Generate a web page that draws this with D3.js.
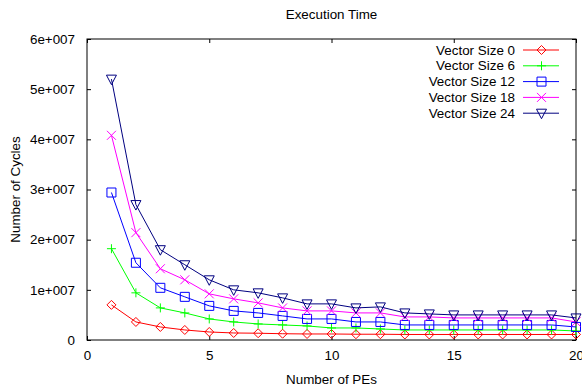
<!DOCTYPE html>
<html>
<head>
  <meta charset="utf-8">
  <title>Execution Time</title>
  <script src="https://d3js.org/d3.v7.min.js"></script>
  <style>
    body { margin: 0; background: #fff; }
    text { font-family: "Liberation Sans", Arial, sans-serif; font-size: 13.4px; fill: #000; }
  </style>
</head>
<body>
  <svg id="chart" width="582" height="389"></svg>

  <script>
    // number of PEs
    const pes = [1, 2, 3, 4, 5, 6, 7, 8, 9, 10, 11, 12, 13, 14, 15, 16, 17, 18, 19, 20];

    const size0  = [7.0e6, 3.6e6, 2.6e6, 2.0e6, 1.6e6, 1.4e6, 1.35e6, 1.25e6, 1.2e6, 1.2e6, 1.15e6, 1.15e6, 1.1e6, 1.1e6, 1.1e6, 1.1e6, 1.1e6, 1.1e6, 1.1e6, 1.1e6];
    const size6  = [1.82e7, 9.4e6, 6.4e6, 5.4e6, 4.2e6, 3.6e6, 3.2e6, 3.0e6, 2.8e6, 2.4e6, 2.4e6, 2.2e6, 2.0e6, 2.0e6, 2.0e6, 2.0e6, 2.0e6, 2.0e6, 2.0e6, 1.8e6];
    const size12 = [2.94e7, 1.54e7, 1.04e7, 8.6e6, 6.8e6, 5.8e6, 5.4e6, 4.8e6, 4.2e6, 4.2e6, 3.6e6, 3.6e6, 3.0e6, 3.0e6, 3.0e6, 3.0e6, 3.0e6, 3.0e6, 3.0e6, 2.6e6];
    const size18 = [4.08e7, 2.14e7, 1.42e7, 1.2e7, 9.2e6, 8.2e6, 7.4e6, 6.4e6, 5.8e6, 5.8e6, 5.4e6, 5.4e6, 4.6e6, 4.6e6, 4.4e6, 4.4e6, 4.4e6, 4.4e6, 4.4e6, 3.6e6];
    const size24 = [5.2e7, 2.7e7, 1.8e7, 1.5e7, 1.2e7, 1.0e7, 9.4e6, 8.4e6, 7.2e6, 7.2e6, 6.4e6, 6.6e6, 5.4e6, 5.2e6, 5.0e6, 5.0e6, 5.0e6, 5.0e6, 5.0e6, 4.4e6];

    const seriesNames = ["Vector Size 0", "Vector Size 6", "Vector Size 12", "Vector Size 18", "Vector Size 24"];
    const seriesValues = [size0, size6, size12, size18, size24];
    const seriesColors = ["#ff0000", "#00ff00", "#0000ff", "#ff00ff", "#000080"];
    const seriesSymbols = ["diamond", "plus", "square", "cross", "triangle"];

    const xTicks = [0, 5, 10, 15, 20];
    const yTicks = [0, 1e7, 2e7, 3e7, 4e7, 5e7, 6e7];
    const yTickLabels = ["0", "1e+007", "2e+007", "3e+007", "4e+007", "5e+007", "6e+007"];

    const margin = { top: 39, right: 6, bottom: 49, left: 87 };
    const width = 582, height = 389;
    const iw = width - margin.left - margin.right;
    const ih = height - margin.top - margin.bottom;

    const svg = d3.select("#chart");
    const g = svg.append("g").attr("transform", `translate(${margin.left},${margin.top})`);

    const x = d3.scaleLinear().domain([0, 20]).range([0, iw]);
    const y = d3.scaleLinear().domain([0, 6e7]).range([ih, 0]);

    // frame
    g.append("rect")
      .attr("x", 0).attr("y", 0)
      .attr("width", iw).attr("height", ih)
      .attr("fill", "none").attr("stroke", "#000").attr("stroke-width", 1);

    // axes with inward ticks, mirrored on top/right
    const tl = 4;
    g.append("g").attr("transform", `translate(0,${ih})`)
      .call(d3.axisBottom(x).tickValues(xTicks).tickSize(-tl).tickPadding(10.5))
      .call(a => a.select(".domain").remove());
    g.append("g")
      .call(d3.axisTop(x).tickValues(xTicks).tickSize(-tl).tickFormat(""))
      .call(a => a.select(".domain").remove());
    g.append("g")
      .call(d3.axisLeft(y).tickValues(yTicks).tickSize(-tl).tickPadding(12)
        .tickFormat((d, i) => yTickLabels[i]))
      .call(a => a.select(".domain").remove());
    g.append("g").attr("transform", `translate(${iw},0)`)
      .call(d3.axisRight(y).tickValues(yTicks).tickSize(-tl).tickFormat(""))
      .call(a => a.select(".domain").remove());

    g.selectAll(".tick text")
      .style("font-family", "'Liberation Sans', Arial, sans-serif")
      .style("font-size", "13.4px")
      .attr("fill", "#000");

    // point symbols
    function drawSymbol(sel, type, color) {
      const s = 4.5;
      let d;
      if (type === "diamond") d = `M0,${-s}L${s},0L0,${s}L${-s},0Z`;
      else if (type === "plus") d = `M${-s},0H${s}M0,${-s}V${s}`;
      else if (type === "square") d = `M${-s},${-s}H${s}V${s}H${-s}Z`;
      else if (type === "cross") d = `M${-s},${-s}L${s},${s}M${-s},${s}L${s},${-s}`;
      else d = `M${-s - 0.5},${-s + 0.5}H${s + 0.5}L0,${s + 1}Z`;
      sel.append("path")
        .attr("d", d)
        .attr("fill", "none")
        .attr("stroke", color)
        .attr("stroke-width", 1);
    }

    const line = d3.line()
      .x((d, i) => x(pes[i]))
      .y(d => y(d));

    seriesValues.forEach((vals, k) => {
      g.append("path")
        .datum(vals)
        .attr("d", line)
        .attr("fill", "none")
        .attr("stroke", seriesColors[k])
        .attr("stroke-width", 1);
      vals.forEach((v, i) => {
        const p = g.append("g").attr("transform", `translate(${x(pes[i])},${y(v)})`);
        drawSymbol(p, seriesSymbols[k], seriesColors[k]);
      });
    });

    // legend
    const legend = g.append("g");
    seriesNames.forEach((name, k) => {
      const ly = 11 + k * 15.8;
      legend.append("text")
        .attr("x", 428)
        .attr("y", ly)
        .attr("dy", "0.35em")
        .attr("text-anchor", "end")
        .text(name);
      legend.append("line")
        .attr("x1", 436).attr("x2", 472)
        .attr("y1", ly).attr("y2", ly)
        .attr("stroke", seriesColors[k]).attr("stroke-width", 1);
      const p = legend.append("g").attr("transform", `translate(454.5,${ly})`);
      drawSymbol(p, seriesSymbols[k], seriesColors[k]);
    });

    // titles
    svg.append("text")
      .attr("x", margin.left + iw / 2)
      .attr("y", 19)
      .attr("text-anchor", "middle")
      .text("Execution Time");

    svg.append("text")
      .attr("x", margin.left + iw / 2)
      .attr("y", 384)
      .attr("text-anchor", "middle")
      .text("Number of PEs");

    svg.append("text")
      .attr("transform", `translate(19.5,${margin.top + ih / 2}) rotate(-90)`)
      .attr("text-anchor", "middle")
      .text("Number of Cycles");
  </script>
</body>
</html>
